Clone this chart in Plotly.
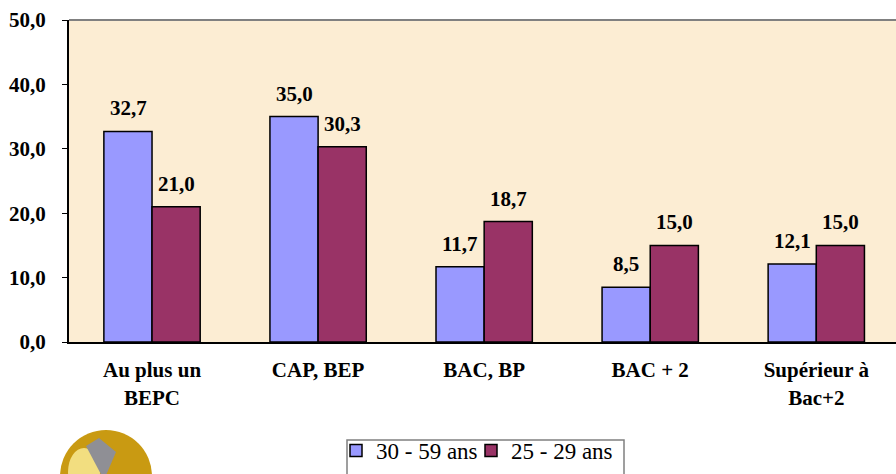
import plotly.graph_objects as go

# Données
categories = ["Au plus un<br>BEPC", "CAP, BEP", "BAC, BP", "BAC + 2", "Supérieur à<br>Bac+2"]
serie_30_59 = [32.7, 35.0, 11.7, 8.5, 12.1]
serie_25_29 = [21.0, 30.3, 18.7, 15.0, 15.0]
noms = ["30 - 59 ans", "25 - 29 ans"]
y_ticks = [0, 10, 20, 30, 40, 50]

police = "Liberation Serif"
taille = 21

# zone de tracé : x de 69 à 896, y de 20 à 342 (pixels)
def px(x):
    return (x - 69) / 827

def py(y):
    return (342 - y) / 322

fig = go.Figure()
for nom, valeurs, couleur, leg in zip(noms, [serie_30_59, serie_25_29],
                                      ["#9999FF", "#993366"], ["legend", "legend2"]):
    fig.add_trace(go.Bar(
        x=categories, y=valeurs, name=nom, legend=leg,
        marker=dict(color=couleur, line=dict(color="black", width=1.5)),
    ))

# étiquettes des valeurs au-dessus des barres
for valeurs, decalage in [(serie_30_59, -24), (serie_25_29, 24)]:
    for cat, v in zip(categories, valeurs):
        fig.add_annotation(
            x=cat, y=v, text="<b>" + f"{v:.1f}".replace(".", ",") + "</b>",
            showarrow=False, xshift=decalage, yshift=9, yanchor="bottom",
            font=dict(family=police, size=taille, color="black"),
        )

# logo (approximation)
coin = "M {},{} L {},{} L {},{} L {},{} Z".format(
    px(86), py(446), px(99), py(438), px(116), py(452), px(104), py(480))
logo = [
    dict(type="circle", xref="paper", yref="paper", x0=px(60), x1=px(152),
         y0=py(430), y1=py(522), fillcolor="#C99A12", line=dict(width=0)),
    dict(type="circle", xref="paper", yref="paper", x0=px(68), x1=px(100),
         y0=py(448), y1=py(496), fillcolor="#F2DE80", line=dict(width=0)),
    dict(type="path", xref="paper", yref="paper", path=coin,
         fillcolor="#8F8F95", line=dict(width=0)),
]

legende = dict(
    orientation="h", xref="paper", yref="paper",
    y=py(429), xanchor="left", yanchor="top",
    bgcolor="rgba(0,0,0,0)", borderwidth=0,
    font=dict(family=police, size=23, color="black"),
    itemwidth=30,
)

fig.update_layout(
    width=896, height=474,
    margin=dict(l=69, r=0, t=20, b=132, autoexpand=False),
    separators=", ",
    barmode="group", bargap=0.42, bargroupgap=0,
    plot_bgcolor="#FCEDD3", paper_bgcolor="white",
    font=dict(family=police, color="black"),
    showlegend=True,
    legend=dict(legende, x=px(336)),
    legend2=dict(legende, x=px(471)),
    shapes=[
        # ligne grise du haut
        dict(type="line", xref="paper", yref="paper", x0=0, x1=1, y0=1, y1=1,
             line=dict(color="#808080", width=2)),
        # cadre de la légende
        dict(type="rect", xref="paper", yref="paper", x0=px(347), x1=px(624),
             y0=py(440), y1=py(500), line=dict(color="#808080", width=1.5)),
    ] + logo,
)

fig.update_xaxes(
    range=[-0.5, 4.48], showline=True, linecolor="black", linewidth=2,
    showgrid=False, ticks="", ticklabelstandoff=8, automargin=False,
    tickfont=dict(family=police, size=taille, color="black", weight="bold"),
)
fig.update_yaxes(
    range=[0, 50], tickvals=y_ticks, tickformat=".1f",
    showline=True, linecolor="black", linewidth=2, showgrid=False,
    ticks="outside", ticklen=5, tickcolor="black", ticklabelstandoff=12,
    tickfont=dict(family=police, size=taille, color="black", weight="bold"),
    zeroline=False, automargin=False,
)

# supprimer la marge par défaut de la page
fig.write_html("out.html", config={"displayModeBar": False},
               post_script="document.body.style.margin='0';")
